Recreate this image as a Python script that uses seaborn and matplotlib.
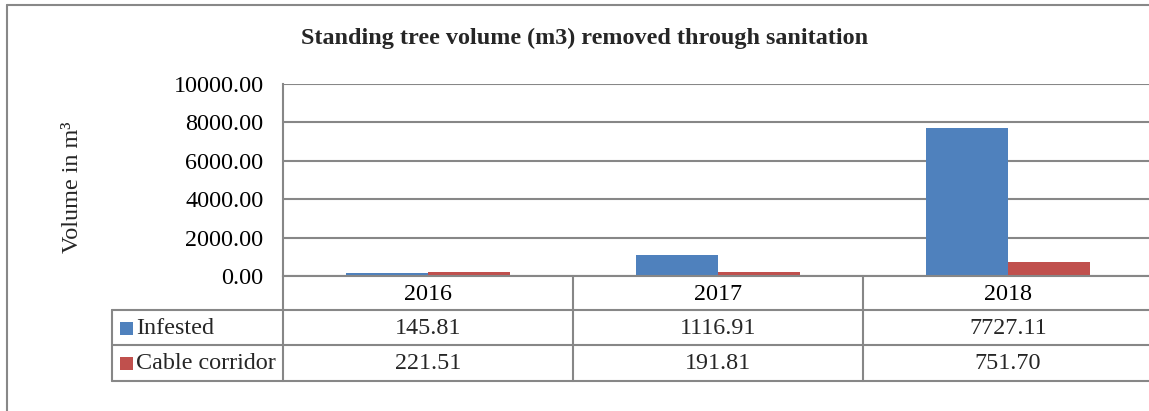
import matplotlib
matplotlib.use("Agg")
import matplotlib.pyplot as plt
from matplotlib.lines import Line2D
from matplotlib.patches import Rectangle
import seaborn as sns
import pandas as pd

years = ["2016", "2017", "2018"]
series_names = ["Infested", "Cable corridor"]
infested = [145.81, 1116.91, 7727.11]
cable_corridor = [221.51, 191.81, 751.70]
yticks = [0, 2000, 4000, 6000, 8000, 10000]
title = "Standing tree volume (m3) removed through sanitation"
ylabel = "Volume in m³"

colors = ["#4F81BD", "#C0504D"]
grid_c = "#878787"
FS = 17.4

df = pd.DataFrame({
    "year": years * 2,
    "volume": infested + cable_corridor,
    "series": [series_names[0]] * 3 + [series_names[1]] * 3,
})

sns.set_theme(style="white")
plt.rcParams["font.family"] = ["Liberation Serif", "DejaVu Serif"]

W, H = 1149, 411
fig = plt.figure(figsize=(W / 100, H / 100), dpi=100)

def fx(x):
    return x / W

def fy(y):
    return 1 - y / H

ax = fig.add_axes([fx(283), fy(276), 870 / W, 192 / H])
sns.barplot(data=df, x="year", y="volume", hue="series", palette=colors,
            width=0.566, gap=0, saturation=1, legend=False, ax=ax,
            edgecolor="none", errorbar=None)
ax.set_xlim(-0.5, 2.5)
ax.set_ylim(0, 10000)
ax.set_yticks(yticks)
ax.set_yticklabels([f"{v:.2f}" for v in yticks], fontsize=FS)
ax.set_xticks(range(len(years)))
ax.set_xticklabels(years, fontsize=FS)
ax.tick_params(axis="y", length=0, pad=14, colors="black")
ax.tick_params(axis="x", length=0, pad=5.8, colors="black")
ax.set_xlabel("")
ax.set_ylabel("")
ax.yaxis.grid(True, color=grid_c, linewidth=1.5)
ax.set_axisbelow(True)
for s in ["top", "right"]:
    ax.spines[s].set_visible(False)
for s in ["left", "bottom"]:
    ax.spines[s].set_color(grid_c)
    ax.spines[s].set_linewidth(1.5)

# data table below the axis
tr = ax.get_xaxis_transform()
row_edges = [0, -34 / 192, -69 / 192, -105 / 192]
xleft = -0.5 - 171 / 290
col_edges = [-0.5, 0.5, 1.5, 2.5]
for ye in row_edges[1:]:
    ax.add_line(Line2D([xleft, 2.6], [ye, ye], transform=tr, color=grid_c,
                       lw=1.5, clip_on=False))
ax.add_line(Line2D([xleft, xleft], [row_edges[1], row_edges[3]], transform=tr,
                   color=grid_c, lw=1.5, clip_on=False))
for xe in col_edges:
    ax.add_line(Line2D([xe, xe], [0, row_edges[3]], transform=tr, color=grid_c,
                       lw=1.5, clip_on=False))

rows = [infested, cable_corridor]
for r, vals in enumerate(rows):
    yc = (row_edges[r + 1] + row_edges[r + 2]) / 2 - 0.005
    for i, v in enumerate(vals):
        ax.text(i, yc, f"{v:.2f}", transform=tr, ha="center", va="center",
                fontsize=FS, clip_on=False)
    ax.text(xleft + 24 / 290, yc, series_names[r], transform=tr,
            ha="left", va="center", fontsize=FS, clip_on=False)
    ax.add_patch(Rectangle((xleft + 8 / 290, yc - 0.034), 13 / 290, 0.068,
                           transform=tr, facecolor=colors[r], edgecolor="none",
                           clip_on=False))

fig.text(fx(585), fy(38), title, ha="center", va="center", fontsize=FS,
         fontweight="bold")
fig.text(fx(72), fy(187), ylabel, ha="center", va="center", rotation=90,
         fontsize=FS)

# outer chart border
fig.add_artist(Line2D([fx(7), fx(7)], [fy(5), 0], transform=fig.transFigure,
                      color="#888888", lw=1.5))
fig.add_artist(Line2D([fx(7), 1], [fy(5), fy(5)], transform=fig.transFigure,
                      color="#888888", lw=1.5))

fig.savefig("out.png", dpi=100)
